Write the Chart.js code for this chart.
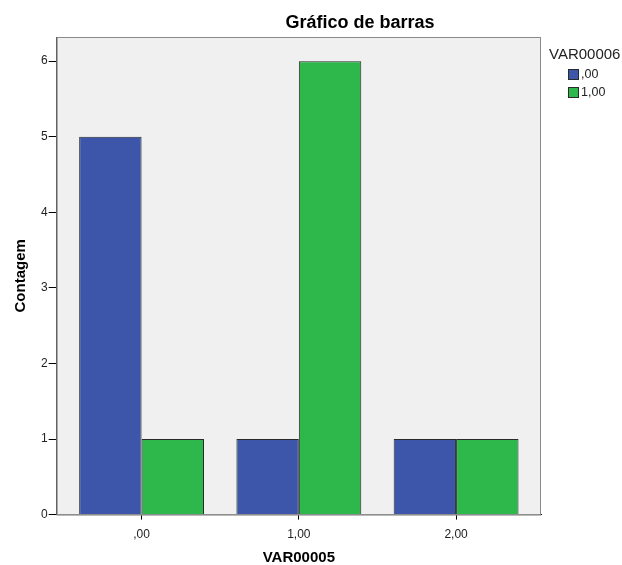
<!DOCTYPE html>
<html>
<head>
<meta charset="utf-8">
<script src="https://cdn.jsdelivr.net/npm/chart.js@4"></script>
<style>
  body { margin: 0; background: #fff; }
  #wrap { width: 622px; height: 565px; }
</style>
</head>
<body>
<div id="wrap"><canvas id="barChart" width="622" height="565"></canvas></div>
<script>
// Data
const categories = [",00", "1,00", "2,00"];     // VAR00005
const seriesNames = [",00", "1,00"];            // VAR00006
const countsA = [5, 1, 1];
const countsB = [1, 6, 1];
const yTicks = [0, 1, 2, 3, 4, 5, 6];

const blue = "#3e56aa";
const green = "#2eb84b";
const fontFamily = "'Liberation Sans', Arial, sans-serif";

// plot background + frame, title and the legend block on the right
const plotFrame = {
    id: "plotFrame",
    beforeDatasetsDraw(chart) {
        const a = chart.chartArea;
        const ctx = chart.ctx;
        ctx.save();
        ctx.fillStyle = "#f0f0f0";
        ctx.fillRect(a.left, a.top, a.right - a.left, a.bottom - a.top);
        ctx.strokeStyle = "#8a8a8a";
        ctx.lineWidth = 1;
        ctx.strokeRect(a.left + 0.5, a.top + 0.5, a.right - a.left - 1, a.bottom - a.top);
        ctx.restore();
    },
    afterDraw(chart) {
        const ctx = chart.ctx;
        ctx.save();
        ctx.font = "bold 18px " + fontFamily;
        ctx.fillStyle = "#000";
        ctx.textAlign = "center";
        ctx.textBaseline = "alphabetic";
        ctx.fillText("Gráfico de barras", 360, 28);

        // legend
        ctx.font = "15px " + fontFamily;
        ctx.fillStyle = "#222";
        ctx.textAlign = "left";
        ctx.fillText("VAR00006", 549, 59);
        ctx.font = "12.5px " + fontFamily;
        ctx.textBaseline = "middle";
        chart.data.datasets.forEach((ds, i) => {
            const y = 69 + i * 18;
            ctx.fillStyle = ds.backgroundColor;
            ctx.fillRect(568, y, 11, 11);
            ctx.strokeStyle = "#2a2a2a";
            ctx.lineWidth = 1;
            ctx.strokeRect(568.5, y + 0.5, 10, 10);
            ctx.fillStyle = "#222";
            ctx.fillText(ds.label, 581, y + 6);
        });
        ctx.restore();
    }
};

function toPoints(values) {
    return values.map((v, i) => ({ x: i, y: v }));
}

document.addEventListener("DOMContentLoaded", function() {
    const ctx = document.getElementById("barChart").getContext("2d");
    Chart.defaults.font.family = fontFamily;
    Chart.defaults.color = "#222";

    new Chart(ctx, {
        type: "bar",
        data: {
            datasets: [{
                label: seriesNames[0],
                data: toPoints(countsA),
                backgroundColor: blue,
                borderColor: "#2a2a2a",
                borderWidth: 1
            }, {
                label: seriesNames[1],
                data: toPoints(countsB),
                backgroundColor: green,
                borderColor: "#2a2a2a",
                borderWidth: 1
            }]
        },
        options: {
            responsive: false,
            animation: false,
            categoryPercentage: 0.794,
            barPercentage: 1,
            layout: { padding: { top: 37, right: 81, bottom: 0, left: 12 } },
            plugins: {
                title: { display: false },
                tooltip: { enabled: false },
                legend: { display: false }
            },
            scales: {
                x: {
                    type: "linear",
                    min: -0.54,
                    max: 2.54,
                    offset: false,
                    grid: { offset: false, drawOnChartArea: false, drawTicks: true, tickLength: 5, color: "#000" },
                    border: { display: true, color: "#000", width: 1 },
                    ticks: {
                        stepSize: 1,
                        includeBounds: false,
                        padding: 8,
                        font: { size: 12 },
                        color: "#222",
                        callback: (v) => categories[v] !== undefined ? categories[v] : ""
                    },
                    title: {
                        display: true,
                        text: "VAR00005",
                        color: "#000",
                        font: { size: 15, weight: "bold", lineHeight: 1.0 },
                        padding: { top: 0, bottom: 0 }
                    }
                },
                y: {
                    min: yTicks[0],
                    max: 6.32,
                    grid: { drawOnChartArea: false, drawTicks: true, tickLength: 8, color: "#000" },
                    border: { display: true, color: "#000", width: 1 },
                    afterBuildTicks: (axis) => { axis.ticks = yTicks.map(v => ({ value: v })); },
                    ticks: {
                        padding: 1,
                        font: { size: 12 },
                        color: "#222"
                    },
                    title: {
                        display: true,
                        text: "Contagem",
                        color: "#000",
                        font: { size: 15, weight: "bold" },
                        padding: { top: 0, bottom: 10 }
                    }
                }
            }
        },
        plugins: [plotFrame]
    });
});
</script>
</body>
</html>
